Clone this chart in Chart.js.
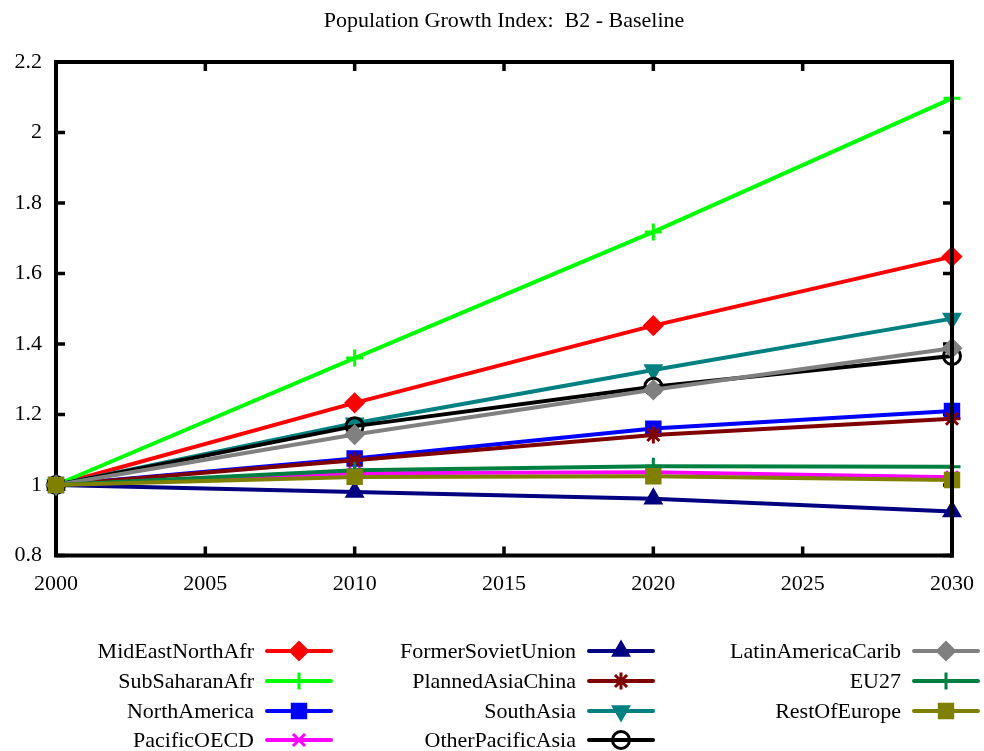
<!DOCTYPE html>
<html>
<head>
<meta charset="utf-8">
<script src="https://cdn.jsdelivr.net/npm/chart.js@4"></script>
<style>
  html, body { margin: 0; padding: 0; background: #fff; }
  #wrap { width: 984px; height: 751px; }
</style>
</head>
<body>
<div id="wrap"><canvas id="c" width="984" height="751"></canvas></div>
<script>
// Population growth index (2000 = 1), B2 baseline scenario
const years = [2000, 2010, 2020, 2030];

const midEastNorthAfr    = [1, 1.233, 1.452, 1.648];
const subSaharanAfr      = [1, 1.360, 1.718, 2.097];
const northAmerica       = [1, 1.075, 1.160, 1.210];
const pacificOECD        = [1, 1.033, 1.036, 1.022];
const formerSovietUnion  = [1, 0.980, 0.961, 0.925];
const plannedAsiaChina   = [1, 1.070, 1.142, 1.188];
const southAsia          = [1, 1.175, 1.326, 1.472];
const otherPacificAsia   = [1, 1.167, 1.279, 1.366];
const latinAmericaCarib  = [1, 1.143, 1.270, 1.388];
const eu27               = [1, 1.042, 1.053, 1.052];
const restOfEurope       = [1, 1.023, 1.025, 1.014];

const regionNames = [
  'MidEastNorthAfr', 'SubSaharanAfr', 'NorthAmerica', 'PacificOECD',
  'FormerSovietUnion', 'PlannedAsiaChina', 'SouthAsia', 'OtherPacificAsia',
  'LatinAmericaCarib', 'EU27', 'RestOfEurope'
];
const regionValues = [
  midEastNorthAfr, subSaharanAfr, northAmerica, pacificOECD,
  formerSovietUnion, plannedAsiaChina, southAsia, otherPacificAsia,
  latinAmericaCarib, eu27, restOfEurope
];

const yTicks = [0.8, 1.0, 1.2, 1.4, 1.6, 1.8, 2.0, 2.2];
const xTicks = [2000, 2005, 2010, 2015, 2020, 2025, 2030];
const titleText = 'Population Growth Index:  B2 - Baseline';

// line colour, marker shape, marker rotation, marker fill
const styles = [
  ['#ff0000', 'rectRot', 0, '#ff0000'],
  ['#00ff00', 'cross', 0, '#00ff00'],
  ['#0000ff', 'rect', 0, '#0000ff'],
  ['#ff00ff', 'crossRot', 0, '#ff00ff'],
  ['#000080', 'triangle', 0, '#000080'],
  ['#800000', 'star', 0, '#800000'],
  ['#008080', 'triangle', 180, '#008080'],
  ['#000000', 'circle', 0, 'rgba(0,0,0,0)'],
  ['#808080', 'rectRot', 0, '#808080'],
  ['#008040', 'cross', 0, '#008040'],
  ['#808000', 'rect', 0, '#808000']
];

const FONT = '"Liberation Serif", "DejaVu Serif", serif';

const datasets = regionNames.map((name, i) => {
  const [col, shape, rot, fill] = styles[i];
  return {
    label: name,
    data: years.map((yr, k) => ({ x: yr, y: regionValues[i][k] })),
    borderColor: col,
    backgroundColor: fill,
    borderWidth: 4,
    pointStyle: shape,
    pointRotation: rot,
    pointRadius: shape === 'rect' ? 9.5 : 8.5,
    pointBorderWidth: 3,
    pointBorderColor: col,
    pointBackgroundColor: fill,
    tension: 0,
    clip: false,
    order: -i
  };
});

function drawBorder(ctx, a, sides) {
  ctx.save();
  ctx.strokeStyle = '#000';
  ctx.lineWidth = 4;
  ctx.lineCap = 'square';
  ctx.beginPath();
  if (sides.includes('l')) { ctx.moveTo(a.left, a.top); ctx.lineTo(a.left, a.bottom); }
  if (sides.includes('b')) { ctx.moveTo(a.left, a.bottom); ctx.lineTo(a.right, a.bottom); }
  if (sides.includes('r')) { ctx.moveTo(a.right, a.top); ctx.lineTo(a.right, a.bottom); }
  if (sides.includes('t')) { ctx.moveTo(a.left, a.top); ctx.lineTo(a.right, a.top); }
  ctx.stroke();
  ctx.restore();
}

const framePlugin = {
  id: 'frame',
  beforeDatasetsDraw(chart) {
    const { ctx, chartArea: a, scales } = chart;
    drawBorder(ctx, a, 'lb');
    // inward tick marks on all four sides
    ctx.save();
    ctx.strokeStyle = '#000';
    ctx.lineWidth = 3.5;
    ctx.beginPath();
    const len = 9;
    xTicks.forEach(v => {
      const px = scales.x.getPixelForValue(v);
      ctx.moveTo(px, a.bottom); ctx.lineTo(px, a.bottom - len);
      ctx.moveTo(px, a.top); ctx.lineTo(px, a.top + len);
    });
    yTicks.forEach(v => {
      const py = scales.y.getPixelForValue(v);
      ctx.moveTo(a.left, py); ctx.lineTo(a.left + len, py);
      ctx.moveTo(a.right, py); ctx.lineTo(a.right - len, py);
    });
    ctx.stroke();
    ctx.restore();
  },
  afterDatasetsDraw(chart) {
    drawBorder(chart.ctx, chart.chartArea, 'rt');
  },
  afterDraw(chart) {
    const { ctx, chartArea: a } = chart;
    ctx.save();
    // title
    ctx.fillStyle = '#000';
    ctx.font = '22px ' + FONT;
    ctx.textAlign = 'center';
    ctx.textBaseline = 'alphabetic';
    ctx.fillText(titleText, (a.left + a.right) / 2, 27);

    // legend: three columns, text right-aligned before a sample line
    const colRight = [254, 576, 901];
    const rowY = [651, 681, 711, 740];
    chart.data.datasets.forEach((ds, i) => {
      const col = Math.floor(i / 4), row = i % 4;
      const y = rowY[row];
      const tx = colRight[col];
      ctx.fillStyle = '#000';
      ctx.textAlign = 'right';
      ctx.textBaseline = 'middle';
      ctx.font = '22px ' + FONT;
      ctx.fillText(ds.label, tx, y + 1);
      const x0 = tx + 13, x1 = tx + 77;
      ctx.strokeStyle = ds.borderColor;
      ctx.lineWidth = 4;
      ctx.lineCap = 'round';
      ctx.beginPath();
      ctx.moveTo(x0, y); ctx.lineTo(x1, y);
      ctx.stroke();
      ctx.lineCap = 'butt';
      ctx.fillStyle = ds.pointBackgroundColor;
      ctx.strokeStyle = ds.pointBorderColor;
      ctx.lineWidth = ds.pointBorderWidth;
      Chart.helpers.drawPoint(ctx, {
        pointStyle: ds.pointStyle,
        rotation: ds.pointRotation,
        radius: ds.pointRadius,
        borderWidth: ds.pointBorderWidth
      }, (x0 + x1) / 2, y);
    });
    ctx.restore();
  }
};

new Chart(document.getElementById('c'), {
  type: 'line',
  data: { datasets },
  plugins: [framePlugin],
  options: {
    responsive: false,
    animation: false,
    events: [],
    layout: { padding: { top: 62, right: 32, bottom: 150.5, left: 0 } },
    plugins: {
      legend: { display: false },
      title: { display: false },
      tooltip: { enabled: false }
    },
    scales: {
      x: {
        type: 'linear',
        min: 2000,
        max: 2030,
        afterBuildTicks(scale) { scale.ticks = xTicks.map(v => ({ value: v })); },
        afterFit(scale) {
          scale.height = 45;
          scale.paddingLeft = 0;
          scale.paddingRight = 0;
        },
        grid: { display: false, drawTicks: false },
        border: { display: false },
        ticks: {
          padding: 16,
          maxRotation: 0,
          color: '#000',
          font: { family: FONT, size: 22 },
          callback: v => String(v)
        }
      },
      y: {
        type: 'linear',
        min: 0.8,
        max: 2.2,
        afterBuildTicks(scale) { scale.ticks = yTicks.map(v => ({ value: v })); },
        afterFit(scale) {
          scale.width = 56;
          scale.paddingTop = 0;
          scale.paddingBottom = 0;
        },
        grid: { display: false, drawTicks: false },
        border: { display: false },
        ticks: {
          padding: 14,
          color: '#000',
          font: { family: FONT, size: 22 },
          callback: v => String(+v.toFixed(1))
        }
      }
    }
  }
});
</script>
</body>
</html>
